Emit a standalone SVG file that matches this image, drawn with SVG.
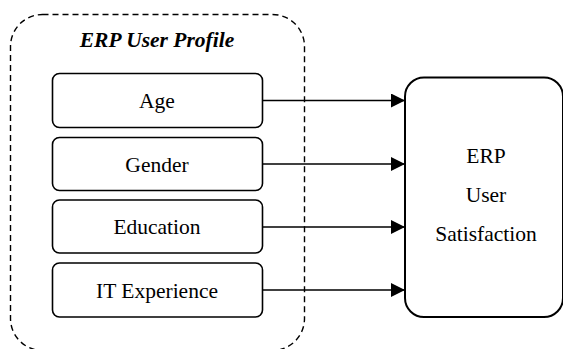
<svg xmlns="http://www.w3.org/2000/svg" width="563" height="349" viewBox="0 0 563 349">
<style>
.box{fill:#fff;stroke:#000;stroke-width:1.6}
.lbl{font-family:"Liberation Serif","Times New Roman",Times,"DejaVu Serif",serif;font-size:21.5px;fill:#000;text-anchor:middle}
.edge{stroke:#000;stroke-width:1.6;fill:none}
</style>
<defs>
<marker id="ah" viewBox="0 0 14 14" refX="14" refY="7" markerWidth="14" markerHeight="14" markerUnits="userSpaceOnUse" orient="auto">
<path d="M0,0 L14,7 L0,14 Z" fill="#000"/>
</marker>
</defs>
<rect width="563" height="349" fill="#fff"/>
<g id="profile">
<rect x="10.5" y="14.5" width="294" height="336" rx="32" ry="32" fill="none" stroke="#000" stroke-width="1.4" stroke-dasharray="6,4"/>
<text x="157" y="47" class="lbl" font-weight="bold" font-style="italic">ERP User Profile</text>
</g>
<g id="connectors">
<line class="edge" x1="263" y1="100.5" x2="405" y2="100.5" marker-end="url(#ah)"/>
<line class="edge" x1="263" y1="164" x2="405" y2="164" marker-end="url(#ah)"/>
<line class="edge" x1="263" y1="227" x2="405" y2="227" marker-end="url(#ah)"/>
<line class="edge" x1="263" y1="290" x2="405" y2="290" marker-end="url(#ah)"/>
</g>
<g id="age">
<rect class="box" x="52.5" y="73.5" width="210" height="54" rx="7"/>
<text x="157" y="108" class="lbl">Age</text>
</g>
<g id="gender">
<rect class="box" x="52.5" y="137.5" width="210" height="53" rx="7"/>
<text x="157" y="172" class="lbl">Gender</text>
</g>
<g id="education">
<rect class="box" x="52.5" y="200" width="210" height="53" rx="7"/>
<text x="157" y="234" class="lbl">Education</text>
</g>
<g id="it">
<rect class="box" x="52.5" y="263" width="210" height="54" rx="7"/>
<text x="157" y="297.5" class="lbl">IT Experience</text>
</g>
<g id="satisfaction">
<rect x="405" y="77.5" width="158" height="239.5" rx="19" fill="#fff" stroke="#000" stroke-width="2"/>
<text x="486" y="162.5" class="lbl">ERP</text>
<text x="486" y="201.5" class="lbl">User</text>
<text x="486" y="241" class="lbl">Satisfaction</text>
</g>
</svg>
